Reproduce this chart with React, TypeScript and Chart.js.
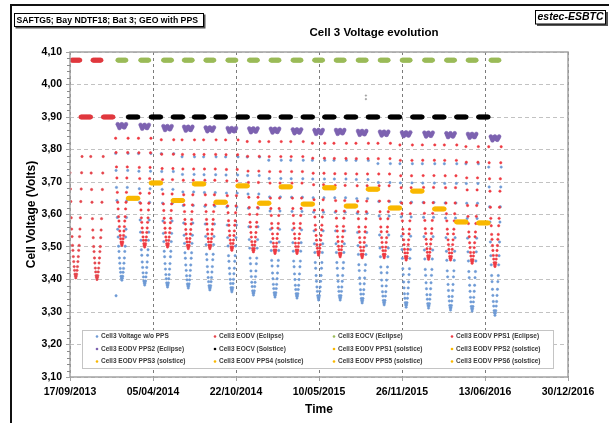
import React, { useEffect, useRef } from 'react';
import { Chart, registerables } from 'chart.js';

Chart.register(...registerables);

const FONT = "'Liberation Sans', Arial, Helvetica, sans-serif";

// x values are days counted from 17/09/2013
const START_UTC = Date.UTC(2013, 8, 17);
const DAY_MS = 86400000;
const X_MIN = 0;
const X_MAX = 1200;
const X_TICK_DAYS = 200;
const Y_MIN = 3.1;
const Y_MAX = 4.1;
const Y_TICK = 0.1;

// Reference eclipse seasons, before PPS operation
const refSeasonDays = [14, 65];
const refSeasonTop = [3.79, 3.79];
const refSeasonBottom = [3.405, 3.4];
const refEocvEclipse = [4.075, 4.075];
const refSolsticeDays = [38, 92];
const refEocvSolstice = [3.9, 3.9];

// Eclipse seasons with PPS operation (centre day of each season)
const seasonDays = [125, 180, 235, 285, 337, 390, 442, 494, 547, 599, 651, 704, 757, 810, 864, 917, 969, 1024];
const noPpsTop = [3.8, 3.8, 3.8, 3.79, 3.79, 3.79, 3.79, 3.78, 3.78, 3.78, 3.78, 3.78, 3.77, 3.77, 3.77, 3.77, 3.77, 3.76];
const noPpsBottom = [3.398, 3.383, 3.377, 3.374, 3.368, 3.362, 3.352, 3.346, 3.343, 3.337, 3.337, 3.328, 3.322, 3.315, 3.312, 3.306, 3.303, 3.29];
const pps1Top = [3.845, 3.845, 3.84, 3.84, 3.84, 3.84, 3.835, 3.835, 3.835, 3.83, 3.83, 3.83, 3.83, 3.825, 3.825, 3.825, 3.82, 3.82];
const pps1Bottom = [3.505, 3.5, 3.5, 3.495, 3.495, 3.49, 3.485, 3.48, 3.48, 3.475, 3.47, 3.467, 3.467, 3.46, 3.462, 3.46, 3.45, 3.44];
const pps2Level = [3.878, 3.876, 3.872, 3.87, 3.868, 3.866, 3.865, 3.864, 3.862, 3.86, 3.86, 3.857, 3.855, 3.853, 3.852, 3.85, 3.848, 3.84];
const eocvEclipse = [4.075, 4.075, 4.075, 4.075, 4.075, 4.075, 4.075, 4.075, 4.075, 4.075, 4.075, 4.075, 4.075, 4.075, 4.075, 4.075, 4.075, 4.075];

// Solstice periods between the PPS seasons (centre day of each period)
const solsticeDays = [152, 207, 260, 311, 363, 416, 468, 520, 573, 625, 677, 730, 783, 837, 890, 943, 996];
const eocvSolstice = [3.9, 3.9, 3.9, 3.9, 3.9, 3.9, 3.9, 3.9, 3.9, 3.9, 3.9, 3.9, 3.9, 3.9, 3.9, 3.9, 3.9];
const ppsSolsticeEodv = [3.65, 3.697, 3.643, 3.694, 3.638, 3.688, 3.635, 3.685, 3.632, 3.682, 3.626, 3.678, 3.62, 3.672, 3.617, 3.577, 3.574];
const ppsSolsticeUnit = [1, 1, 1, 2, 2, 2, 3, 3, 3, 4, 4, 4, 5, 5, 5, 6, 6];

// Share of the season's voltage swing reached each day, first eclipse day -> mid-season
const seasonDepth = [0.03, 0.16, 0.29, 0.39, 0.52, 0.61, 0.67, 0.74, 0.78, 0.83, 0.87, 0.91, 0.94, 0.97, 0.985, 1.0];

// PPS2 eclipse readings around each season centre
const pps2DayOffsets = [-10, -8, -6, -4, -2, 0, 2, 4, 6, 8, 10];
const pps2VoltOffsets = [0, -0.006, -0.012, -0.008, -0.002, 0, -0.004, -0.009, -0.01, -0.005, 0];

// Daily EOCV readings kept around each season / solstice centre
const ECLIPSE_EOCV_HALF_DAYS = 10;
const SOLSTICE_HALF_DAYS = 12;

// Isolated readings
const strayDays = [111];
const strayVolts = [3.35];
const markDays = [713, 713];
const markVolts = [3.966, 3.955];

const legendLabels = [
  'Cell3 Voltage w/o PPS', 'Cell3 EODV (Eclipse)', 'Cell3 EOCV (Eclipse)', 'Cell3 EODV PPS1 (Eclipse)',
  'Cell3 EODV PPS2 (Eclipse)', 'Cell3 EOCV (Solstice)', 'Cell3 EODV PPS1 (solstice)', 'Cell3 EODV PPS2 (solstice)',
  'Cell3 EODV PPS3 (solstice)', 'Cell3 EODV PPS4 (solstice)', 'Cell3 EODV PPS5 (solstice)', 'Cell3 EODV PPS6 (solstice)',
];

type Pt = { x: number; y: number };

function fmtDate(days: number): string {
  const d = new Date(START_UTC + days * DAY_MS);
  const p = (n: number) => String(n).padStart(2, '0');
  return `${p(d.getUTCDate())}/${p(d.getUTCMonth() + 1)}/${d.getUTCFullYear()}`;
}

function seasonDip(centre: number, top: number, bottom: number): Pt[] {
  const half = seasonDepth.length - 1;
  const pts: Pt[] = [];
  for (let k = -half; k <= half; k++) {
    const day = centre + k;
    if (day < X_MIN) continue;
    pts.push({ x: day, y: top - (top - bottom) * seasonDepth[half - Math.abs(k)] });
  }
  return pts;
}

function daily(centre: number, level: number, half: number): Pt[] {
  const pts: Pt[] = [];
  for (let k = -half; k <= half; k++) {
    const day = centre + k;
    if (day < X_MIN) continue;
    pts.push({ x: day, y: level });
  }
  return pts;
}

function dotSet(label: string, data: Pt[], color: string, radius: number, order: number) {
  return {
    label,
    data,
    backgroundColor: color,
    borderColor: color,
    borderWidth: 0.5,
    pointRadius: radius,
    pointHoverRadius: radius,
    order,
  };
}

function buildDatasets() {
  const noPps = seasonDays.flatMap((d, i) => seasonDip(d, noPpsTop[i], noPpsBottom[i]))
    .concat(strayDays.map((d, i) => ({ x: d, y: strayVolts[i] })));
  const refEodv = refSeasonDays.flatMap((d, i) => seasonDip(d, refSeasonTop[i], refSeasonBottom[i]));
  const pps1 = seasonDays.flatMap((d, i) => seasonDip(d, pps1Top[i], pps1Bottom[i]));
  const pps2 = seasonDays.flatMap((d, i) => pps2DayOffsets.map((o, j) => ({ x: d + o, y: pps2Level[i] + pps2VoltOffsets[j] })));
  const eocvE = seasonDays.flatMap((d, i) => daily(d, eocvEclipse[i], ECLIPSE_EOCV_HALF_DAYS));
  const eocvS = solsticeDays.flatMap((d, i) => daily(d, eocvSolstice[i], SOLSTICE_HALF_DAYS));
  const refEocv = refSeasonDays.flatMap((d, i) => daily(d, refEocvEclipse[i], ECLIPSE_EOCV_HALF_DAYS))
    .concat(refSolsticeDays.flatMap((d, i) => daily(d, refEocvSolstice[i], SOLSTICE_HALF_DAYS)));

  const solsticeSets = [1, 2, 3, 4, 5, 6].map((unit) =>
    dotSet(
      `Cell3 EODV PPS${unit} (solstice)`,
      solsticeDays.flatMap((d, i) => (ppsSolsticeUnit[i] === unit ? daily(d, ppsSolsticeEodv[i], SOLSTICE_HALF_DAYS) : [])),
      '#f9b800',
      2.0,
      3,
    ),
  );

  return [
    dotSet('Cell3 Voltage w/o PPS', noPps, '#6e9ad5', 1.2, 7),
    dotSet('Cell3 EODV (Eclipse)', refEodv, '#e4454c', 1.2, 6),
    dotSet('Cell3 EOCV (Eclipse)', eocvE, '#9bbb59', 2.0, 2),
    dotSet('Cell3 EODV PPS1 (Eclipse)', pps1, '#ee3a42', 1.2, 6),
    dotSet('Cell3 EODV PPS2 (Eclipse)', pps2, '#7d62b0', 1.9, 4),
    dotSet('Cell3 EOCV (Solstice)', eocvS, '#000000', 2.0, 2),
    ...solsticeSets,
    dotSet('Cell3 EOCV reference cycles', refEocv, '#e0393f', 2.0, 2),
    dotSet('Cell3 marker', markDays.map((d, i) => ({ x: d, y: markVolts[i] })), '#9a9a9a', 0.8, 1),
  ];
}

const decorations = {
  id: 'decorations',
  afterDraw(chart: any) {
    const { ctx, chartArea: a, scales } = chart;
    const y = scales.y;
    ctx.save();

    // plot area border
    ctx.strokeStyle = '#a3a3a3';
    ctx.lineWidth = 1.5;
    ctx.setLineDash([]);
    ctx.strokeRect(a.left, a.top, a.right - a.left, a.bottom - a.top);

    // minor ticks on the voltage axis
    ctx.strokeStyle = '#8a8a8a';
    ctx.lineWidth = 1;
    for (let i = 0; i <= 50; i++) {
      if (i % 5 === 0) continue;
      const py = Math.round(y.getPixelForValue(Y_MIN + i * 0.02)) + 0.5;
      ctx.beginPath();
      ctx.moveTo(a.left - 3, py);
      ctx.lineTo(a.left, py);
      ctx.stroke();
    }

    // legend box
    const lx = 82, ly = 330, lw = 471, lh = 38;
    ctx.fillStyle = '#ffffff';
    ctx.fillRect(lx, ly, lw, lh);
    ctx.strokeStyle = '#c4c4c4';
    ctx.lineWidth = 1;
    ctx.strokeRect(lx + 0.5, ly + 0.5, lw, lh);
    const colX = [97, 215, 334, 452];
    const rowY = [336.5, 349, 361.5];
    ctx.font = `bold 6.5px ${FONT}`;
    ctx.textBaseline = 'middle';
    ctx.textAlign = 'left';
    legendLabels.forEach((label, idx) => {
      const ds = chart.data.datasets.find((d: any) => d.label === label);
      const cx = colX[idx % 4];
      const cy = rowY[Math.floor(idx / 4)];
      ctx.fillStyle = ds ? ds.backgroundColor : '#888';
      ctx.beginPath();
      ctx.arc(cx, cy, 1.3, 0, Math.PI * 2);
      ctx.fill();
      ctx.fillStyle = '#3a3a3a';
      ctx.fillText(label, cx + 4, cy);
    });

    // outer frame
    ctx.strokeStyle = '#111111';
    ctx.lineWidth = 2;
    ctx.beginPath();
    ctx.moveTo(11, 423);
    ctx.lineTo(11, 5);
    ctx.lineTo(609, 5);
    ctx.stroke();

    // test identification box
    ctx.fillStyle = '#555555';
    ctx.fillRect(15.5, 14.5, 190, 14);
    ctx.fillStyle = '#ffffff';
    ctx.fillRect(14, 13, 190, 14);
    ctx.strokeStyle = '#000000';
    ctx.lineWidth = 1;
    ctx.strokeRect(14.5, 13.5, 189, 13);
    ctx.fillStyle = '#000000';
    ctx.font = `bold 8.7px ${FONT}`;
    ctx.textAlign = 'left';
    ctx.fillText('SAFTG5; Bay NDTF18; Bat 3; GEO with PPS', 16.5, 20.5);

    // laboratory box
    ctx.fillStyle = '#555555';
    ctx.fillRect(537, 12, 71, 14);
    ctx.fillStyle = '#ffffff';
    ctx.fillRect(535.5, 10.5, 70, 13.5);
    ctx.strokeStyle = '#000000';
    ctx.strokeRect(535.5, 10.5, 70, 13.5);
    ctx.fillStyle = '#000000';
    ctx.font = `italic bold 10.5px ${FONT}`;
    ctx.textAlign = 'center';
    ctx.fillText('estec-ESBTC', 570.5, 17.5);

    // chart title
    ctx.font = `bold 11.5px ${FONT}`;
    ctx.fillText('Cell 3 Voltage evolution', 374, 33);

    ctx.restore();
  },
};

export default function App() {
  const ref = useRef<HTMLCanvasElement | null>(null);

  useEffect(() => {
    if (!ref.current) return;
    const chart = new Chart(ref.current, {
      type: 'scatter',
      data: { datasets: buildDatasets() as any },
      options: {
        animation: false,
        responsive: false,
        devicePixelRatio: 1,
        layout: { padding: { left: 20, top: 52, right: 41, bottom: 0 } },
        plugins: {
          legend: { display: false },
          tooltip: { enabled: false },
          title: { display: false },
        },
        scales: {
          x: {
            type: 'linear',
            min: X_MIN,
            max: X_MAX,
            afterFit: (s: any) => { s.height = 46; },
            ticks: {
              stepSize: X_TICK_DAYS,
              autoSkip: false,
              maxRotation: 0,
              padding: 5,
              color: '#000',
              font: { family: FONT, size: 10.5, weight: 'bold' },
              callback: (v: any) => fmtDate(Number(v)),
            },
            grid: { color: '#5a5a5a', lineWidth: 0.8, tickLength: 4, tickColor: '#8a8a8a' },
            border: { display: false, dash: [3, 3] },
            title: {
              display: true,
              text: 'Time',
              color: '#000',
              font: { family: FONT, size: 12, weight: 'bold' },
              padding: { top: 2, bottom: 6 },
            },
          },
          y: {
            type: 'linear',
            min: Y_MIN,
            max: Y_MAX,
            afterFit: (s: any) => { s.width = 50; },
            ticks: {
              stepSize: Y_TICK,
              padding: 4,
              color: '#000',
              font: { family: FONT, size: 10.5, weight: 'bold' },
              callback: (v: any) => Number(v).toFixed(2).replace('.', ','),
            },
            grid: { color: '#b3b3b3', lineWidth: 0.8, tickLength: 4, tickColor: '#8a8a8a' },
            border: { display: false, dash: [4, 3] },
            title: {
              display: true,
              text: 'Cell Voltage (Volts)',
              color: '#000',
              font: { family: FONT, size: 12, weight: 'bold' },
              padding: { top: 4, bottom: 4 },
            },
          },
        },
      } as any,
      plugins: [decorations],
    });
    return () => chart.destroy();
  }, []);

  return (
    <div style={{ position: 'fixed', left: 0, top: 0, width: 609, height: 423, background: '#fff' }}>
      <canvas ref={ref} width={609} height={423} style={{ width: 609, height: 423, display: 'block' }} />
    </div>
  );
}
